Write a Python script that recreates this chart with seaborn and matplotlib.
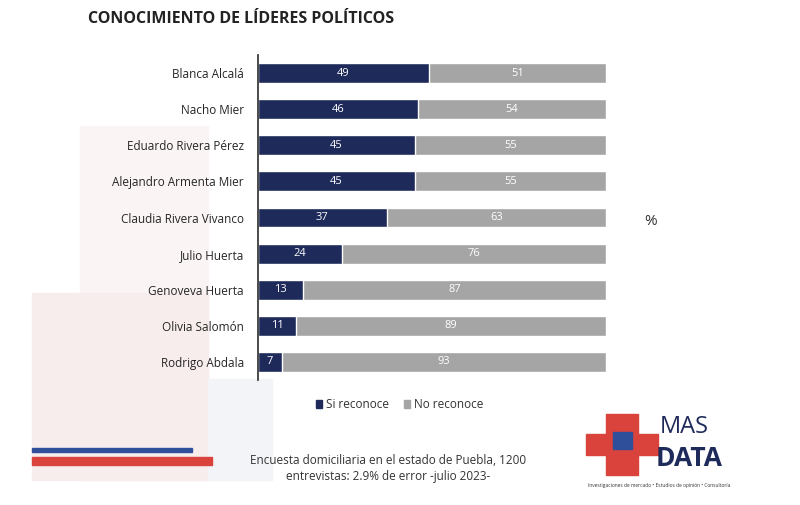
import matplotlib
matplotlib.use("Agg")
import matplotlib.pyplot as plt
import seaborn as sns
import pandas as pd
from matplotlib.patches import Rectangle

names = ["Blanca Alcalá", "Nacho Mier", "Eduardo Rivera Pérez", "Alejandro Armenta Mier",
         "Claudia Rivera Vivanco", "Julio Huerta", "Genoveva Huerta", "Olivia Salomón", "Rodrigo Abdala"]
si = [49, 46, 45, 45, 37, 24, 13, 11, 7]
no = [51, 54, 55, 55, 63, 76, 87, 89, 93]

df = pd.DataFrame({"name": names, "si": si, "total": [a + b for a, b in zip(si, no)], "no": no})

sns.set_theme(style="white")
plt.rcParams['font.family'] = ['Open Sans', 'DejaVu Sans']
navy = "#1e2a5a"; gray = "#a5a5a5"

fig = plt.figure(figsize=(8, 5.05), dpi=100)
for (x, y, w, h, c) in [(0.10, 0.05, 0.16, 0.70, "#faf4f4"), (0.04, 0.05, 0.22, 0.37, "#f8eded"),
                        (0.26, 0.05, 0.08, 0.20, "#f3f4f8")]:
    fig.patches.append(Rectangle((x, y), w, h, transform=fig.transFigure, color=c, zorder=-10))
fig.patches.append(Rectangle((0.04, 0.105), 0.20, 0.008, transform=fig.transFigure, color="#2f4f9a", zorder=-5))
fig.patches.append(Rectangle((0.04, 0.08), 0.225, 0.015, transform=fig.transFigure, color="#d9433b", zorder=-5))

ax = fig.add_axes([0.3225, 0.2475, 0.435, 0.6436])
ax.patch.set_alpha(0)
sns.barplot(data=df, y="name", x="total", color=gray, orient="h", width=0.55, ax=ax, saturation=1)
sns.barplot(data=df, y="name", x="si", color=navy, orient="h", width=0.55, ax=ax, saturation=1)
ax.set_xlim(0, 100)
ax.set_ylim(8.5, -0.5)
ax.set_xlabel(""); ax.set_ylabel("")
ax.set_xticks([])
for s in ["top", "right", "bottom"]:
    ax.spines[s].set_visible(False)
ax.spines["left"].set_color("#333333")
ax.tick_params(axis="y", length=0, labelsize=8.5, pad=10)
for i, (a, b) in enumerate(zip(si, no)):
    ax.text(a / 2, i, str(a), color="white", ha="center", va="center", fontsize=8)
    ax.text(a + b / 2, i, str(b), color="white", ha="center", va="center", fontsize=8)

fig.text(0.11, 0.955, "CONOCIMIENTO DE LÍDERES POLÍTICOS", fontsize=11.5, fontweight="bold", color="#222222")
fig.text(0.805, 0.555, "%", fontsize=11, color="#333333")
fig.patches.append(Rectangle((0.395, 0.192), 0.008, 0.016, transform=fig.transFigure, color=navy))
fig.text(0.407, 0.2, "Si reconoce", fontsize=8.5, va="center", color="#333333")
fig.patches.append(Rectangle((0.505, 0.192), 0.008, 0.016, transform=fig.transFigure, color=gray))
fig.text(0.517, 0.2, "No reconoce", fontsize=8.5, va="center", color="#333333")
fig.text(0.485, 0.072, "Encuesta domiciliaria en el estado de Puebla, 1200\nentrevistas: 2.9% de error -julio 2023-",
         ha="center", va="center", fontsize=8.5, color="#333333", linespacing=1.3)
# logo
fig.patches.append(Rectangle((0.733, 0.1), 0.09, 0.04, transform=fig.transFigure, color="#d9433b"))
fig.patches.append(Rectangle((0.758, 0.06), 0.04, 0.12, transform=fig.transFigure, color="#d9433b"))
fig.patches.append(Rectangle((0.766, 0.11), 0.024, 0.035, transform=fig.transFigure, color="#2f4f9a"))
fig.text(0.825, 0.13, "MAS", fontsize=17, color="#1e2a5a", va="bottom")
fig.text(0.82, 0.065, "DATA", fontsize=19, fontweight="bold", color="#1e2a5a", va="bottom")
fig.text(0.735, 0.035, "Investigaciones de mercado • Estudios de opinión • Consultoría", fontsize=3.5, color="#333333")

fig.savefig("out.png", dpi=100)
